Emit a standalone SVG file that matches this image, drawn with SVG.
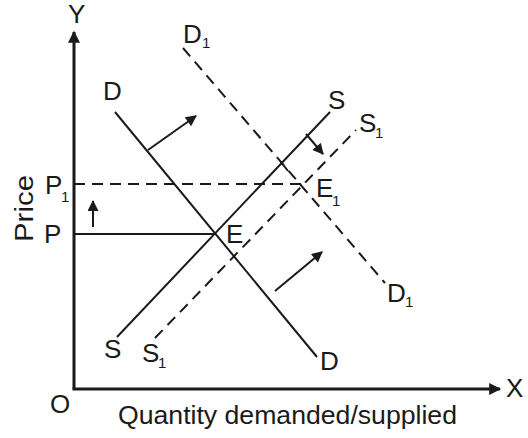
<svg xmlns="http://www.w3.org/2000/svg" width="528" height="438" viewBox="0 0 528 438">
<style>
.t{font-family:"Liberation Sans",Arial,sans-serif;font-size:26px;fill:#1a1a1a}
.s{font-family:"Liberation Sans",Arial,sans-serif;font-size:15px;fill:#1a1a1a}
.ax{stroke:#1a1a1a;stroke-width:3;fill:none}
.ln{stroke:#1a1a1a;stroke-width:2;fill:none}
.da{stroke:#1a1a1a;stroke-width:2;fill:none;stroke-dasharray:11 7}
</style>
<defs>
<marker id="ah" viewBox="0 0 10 10" refX="9" refY="5" markerWidth="6.5" markerHeight="5.5" orient="auto" markerUnits="strokeWidth">
<path d="M0,0 L10,5 L0,10 z" fill="#1a1a1a"/>
</marker>
<marker id="axh" viewBox="0 0 10 10" refX="9" refY="5" markerWidth="4.5" markerHeight="4" orient="auto" markerUnits="strokeWidth">
<path d="M0,0 L10,5 L0,10 z" fill="#1a1a1a"/>
</marker>
</defs>
<rect width="528" height="438" fill="#fff"/>
<g id="axes">
<line class="ax" x1="74" y1="389" x2="74" y2="32" marker-end="url(#axh)"/>
<line class="ax" x1="72.5" y1="389" x2="500" y2="389" marker-end="url(#axh)"/>
<text class="t" x="68" y="23">Y</text>
<text class="t" x="506" y="397">X</text>
<text class="t" x="50" y="413">O</text>
<text class="t" x="118" y="424" textLength="339" lengthAdjust="spacingAndGlyphs">Quantity demanded/supplied</text>
<text class="t" transform="translate(33,242) rotate(-90)" textLength="67" lengthAdjust="spacingAndGlyphs">Price</text>
</g>
<g id="connectors">
<line class="ln" x1="74" y1="234" x2="214" y2="234"/>
<line class="da" x1="74" y1="184" x2="302" y2="184"/>
<line class="ln" x1="93" y1="227" x2="93" y2="201" marker-end="url(#ah)"/>
<line class="ln" x1="148" y1="150" x2="196" y2="116" marker-end="url(#ah)"/>
<line class="ln" x1="275" y1="291" x2="322" y2="252" marker-end="url(#ah)"/>
<line class="ln" x1="306" y1="134" x2="323" y2="154" marker-end="url(#ah)"/>
<line class="ln" x1="281" y1="162" x2="288" y2="171"/>
</g>
<g id="D">
<line class="ln" x1="115" y1="112" x2="317" y2="357"/>
<text class="t" x="103" y="100">D</text>
<text class="t" x="320" y="370">D</text>
</g>
<g id="D1">
<line class="da" x1="183" y1="48" x2="385" y2="283"/>
<text class="t" x="183" y="43">D</text><text class="s" x="202" y="48">1</text>
<text class="t" x="387" y="302">D</text><text class="s" x="405" y="307">1</text>
</g>
<g id="S">
<line class="ln" x1="117" y1="337" x2="330" y2="112"/>
<text class="t" x="328" y="109">S</text>
<text class="t" x="104" y="358">S</text>
</g>
<g id="S1">
<line class="da" x1="155" y1="338" x2="356" y2="130"/>
<text class="t" x="359" y="132">S</text><text class="s" x="375" y="138">1</text>
<text class="t" x="142" y="362">S</text><text class="s" x="158" y="368">1</text>
</g>
<g id="P">
<text class="t" x="44" y="243">P</text>
</g>
<g id="P1">
<text class="t" x="45" y="194">P</text><text class="s" x="61" y="202">1</text>
</g>
<g id="E">
<text class="t" x="226" y="243">E</text>
</g>
<g id="E1">
<text class="t" x="316" y="197">E</text><text class="s" x="332" y="206">1</text>
</g>
</svg>
